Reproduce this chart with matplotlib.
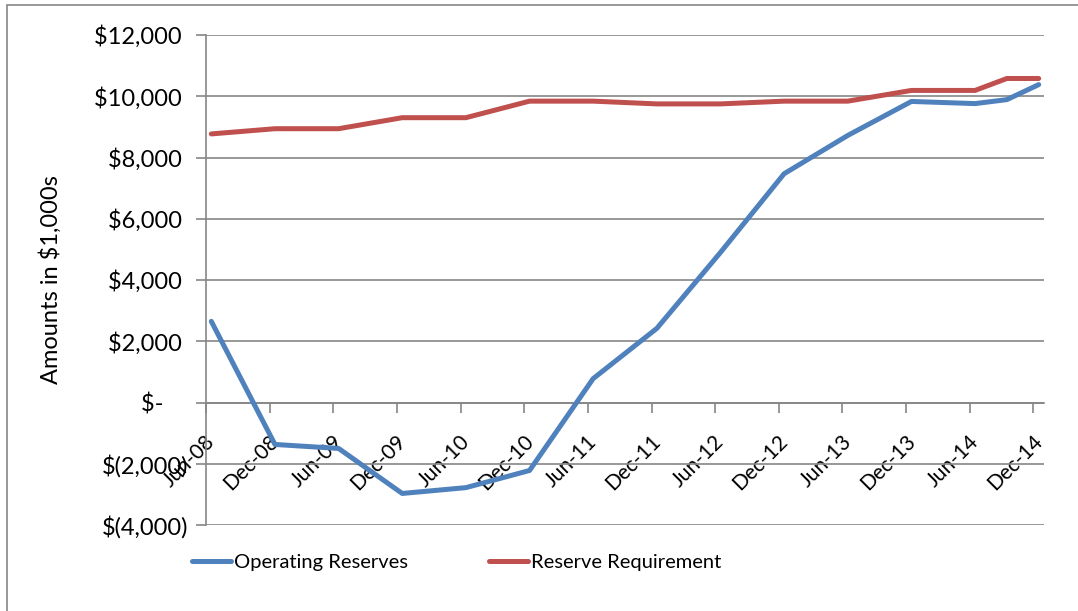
import numpy as np
import pandas as pd
import matplotlib
matplotlib.use('Agg')
import matplotlib.pyplot as plt
from matplotlib.transforms import ScaledTranslation
from matplotlib.patches import Rectangle

plt.rcParams['font.family'] = ['Lato', 'DejaVu Sans']

# data (amounts in $1,000s), semi-annual plus Sep-14
dates = ['Jun-08', 'Dec-08', 'Jun-09', 'Dec-09', 'Jun-10', 'Dec-10', 'Jun-11', 'Dec-11',
         'Jun-12', 'Dec-12', 'Jun-13', 'Dec-13', 'Jun-14', 'Sep-14', 'Dec-14']
operating = [2650, -1370, -1500, -2970, -2780, -2220, 780, 2420,
             4900, 7470, 8720, 9830, 9760, 9890, 10380]
requirement = [8770, 8940, 8940, 9300, 9300, 9840, 9840, 9750,
               9750, 9840, 9840, 10190, 10190, 10580, 10580]

tick_labels = ['Jun-08', 'Dec-08', 'Jun-09', 'Dec-09', 'Jun-10', 'Dec-10', 'Jun-11',
               'Dec-11', 'Jun-12', 'Dec-12', 'Jun-13', 'Dec-13', 'Jun-14', 'Dec-14']
y_ticks = [-4000, -2000, 0, 2000, 4000, 6000, 8000, 10000, 12000]
y_tick_labels = ['$(4,000)', '$(2,000)', '$-    ', '$2,000 ', '$4,000 ', '$6,000 ',
                 '$8,000 ', '$10,000 ', '$12,000 ']

# month index from Jun-08, points sit in the middle of their month (date axis)
d = pd.to_datetime(dates, format='%b-%y')
months = np.array((d.year - 2008) * 12 + d.month - 6)
x = months + 0.5
t = pd.to_datetime(tick_labels, format='%b-%y')
tick_pos = np.array((t.year - 2008) * 12 + t.month - 6)

blue = '#4F81BD'
red = '#C0504D'
gridc = '#868686'
fs = 17

fig = plt.figure(figsize=(10.78, 6.11), dpi=100)
ax = fig.add_axes([206/1078, 1-525/611, (1044-206)/1078, (525-35)/611])
ax.spines['bottom'].set_position(('data', 0))

l1 = ax.plot(x, operating, color=blue, linewidth=3.6, solid_capstyle='round',
             solid_joinstyle='round', label='Operating Reserves', zorder=3)
l2 = ax.plot(x, requirement, color=red, linewidth=3.6, solid_capstyle='round',
             solid_joinstyle='round', label='Reserve Requirement', zorder=3)

ax.set_xlim(0, 79)
ax.set_ylim(-4000, 12000)
ax.set_yticks(y_ticks)
ax.set_yticklabels(y_tick_labels, fontsize=fs)
ax.yaxis.grid(True, color=gridc, linewidth=1.2)
ax.set_axisbelow(True)

ax.set_xticks(tick_pos)
ax.set_xticklabels(tick_labels, fontsize=15, rotation=45, ha='right', va='center',
                   rotation_mode='anchor')
for s in ['top', 'right']:
    ax.spines[s].set_visible(False)
for s in ['left', 'bottom']:
    ax.spines[s].set_color(gridc)
    ax.spines[s].set_linewidth(1.2)
ax.tick_params(axis='both', color=gridc, width=1.2, length=7, direction='out')
ax.tick_params(axis='x', pad=19)
ax.tick_params(axis='y', pad=6)
off = ScaledTranslation(6/100, 0, fig.dpi_scale_trans)
for lab in ax.get_xticklabels():
    lab.set_transform(lab.get_transform() + off)

ax.set_ylabel('Amounts in $1,000s', fontsize=fs, labelpad=12)
ax.yaxis.set_label_coords(-0.172, 0.5)

leg = fig.legend(handles=l1 + l2, loc='center left', bbox_to_anchor=(192/1078, 1-562/611),
                 ncol=2, frameon=False, handlelength=1.95, handletextpad=0.15,
                 columnspacing=4.0, borderaxespad=0, borderpad=0, fontsize=14.5)

# outer chart border
fig.patches.append(Rectangle((7/1078, -0.1), 1.2, 1.1 - 5/611, transform=fig.transFigure,
                             fill=False, edgecolor=gridc, linewidth=1.2))

fig.savefig('out.png', dpi=100)
